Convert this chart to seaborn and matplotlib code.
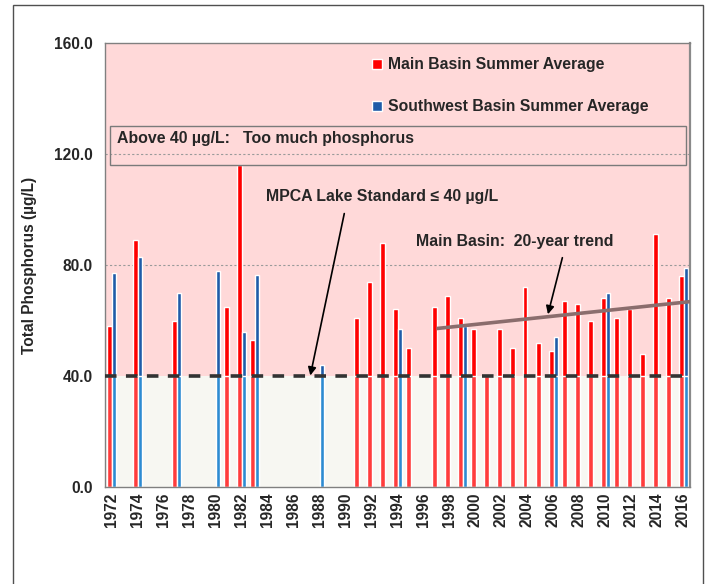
import numpy as np
import pandas as pd
import matplotlib
matplotlib.use("Agg")
import matplotlib.pyplot as plt
from matplotlib.patches import Rectangle
import seaborn as sns

# ---------------- data ----------------
years = list(range(1972, 2017))
main_years = [1972, 1974, 1977, 1981, 1982, 1983, 1991, 1992, 1993, 1994, 1995,
              1997, 1998, 1999, 2000, 2001, 2002, 2003, 2004, 2005, 2006, 2007,
              2008, 2009, 2010, 2011, 2012, 2013, 2014, 2015, 2016]
main_values = [58, 89, 60, 65, 116, 53, 61, 74, 88, 64, 50,
               65, 69, 61, 57, 40, 57, 50, 72, 52, 49, 67,
               66, 60, 68, 61, 64, 48, 91, 68, 76]
sw_years = [1972, 1974, 1977, 1980, 1982, 1983, 1988, 1994, 1999, 2006, 2010, 2016]
sw_values = [77, 83, 70, 78, 56, 76.5, 44, 57, 58, 54, 70, 79]
series_names = ["Main Basin Summer Average", "Southwest Basin Summer Average"]
trend_years = [1997, 2016.5]
trend_values = [57.1, 66.8]
standard = 40
y_ticks = [0, 40, 80, 120, 160]

df = pd.concat([
    pd.DataFrame({"year": [str(y) for y in main_years], "value": main_values,
                  "basin": series_names[0]}),
    pd.DataFrame({"year": [str(y) for y in sw_years], "value": sw_values,
                  "basin": series_names[1]}),
], ignore_index=True)
df["low"] = np.minimum(df["value"], standard)

# ---------------- style ----------------
sns.set_style("white")
plt.rcParams["font.family"] = ["Liberation Sans", "DejaVu Sans"]
plt.rcParams["font.weight"] = "bold"
FS = 11.4

fig = plt.figure(figsize=(7.15, 5.84), dpi=100)
ax = fig.add_axes([105 / 715, 1 - 487 / 584, 585 / 715, 444 / 584])

order = [str(y) for y in years]
# backgrounds
ax.axhspan(standard, 160, color="#ffd9d9", zorder=0, lw=0)
ax.axhspan(0, standard, color="#f7f7f2", zorder=0, lw=0)
for gy in [80, 120]:
    ax.axhline(gy, color="#9a9a9a", lw=0.8, ls=(0, (2, 2)), zorder=0.5)

sns.barplot(data=df, x="year", y="value", hue="basin", order=order,
            hue_order=series_names, palette=["#ff0000", "#1f5ca8"],
            width=0.64, errorbar=None, ax=ax, saturation=1, zorder=2)
handles, labels = ax.get_legend_handles_labels()
sns.barplot(data=df, x="year", y="low", hue="basin", order=order,
            hue_order=series_names, palette=["#ff3c3c", "#2d8bd2"],
            width=0.64, errorbar=None, ax=ax, saturation=1, legend=False, zorder=2)
if ax.get_legend() is not None:
    ax.get_legend().remove()

# standard line
ax.axhline(standard, color="#333333", lw=2.6, dashes=(3.2, 2.6), zorder=4)

# trend line
tx = [y - years[0] for y in trend_years]
ax.plot(tx, trend_values, color="#8b6d6d", lw=2.6, zorder=5, solid_capstyle="butt")

ax.set_xlim(-0.5, len(years) - 0.5)
ax.set_ylim(0, 160)
ax.set_yticks(y_ticks)
ax.set_yticklabels([f"{v:.1f}" for v in y_ticks], fontsize=11.2, fontweight="bold")
ax.set_xticks(range(0, len(years), 2))
ax.set_xticklabels([str(y) for y in years[::2]], rotation=90, fontsize=11.2,
                   fontweight="bold")
ax.set_xticks(np.arange(-0.5, len(years), 2), minor=True)
ax.tick_params(axis="x", which="major", length=0, pad=4)
ax.tick_params(axis="x", which="minor", length=5, color="#808080", direction="out")
ax.tick_params(axis="y", length=5, color="#808080", direction="out", pad=4)
ax.set_xlabel("")
ax.set_ylabel("Total Phosphorus (µg/L)", fontsize=11.2, fontweight="bold", labelpad=12)
for s in ax.spines.values():
    s.set_visible(True)
    s.set_color("#808080")
    s.set_linewidth(1.0)
ax.spines["right"].set_linewidth(1.6)
ax.spines["right"].set_color("#8a8a8a")

# legend
leg = ax.legend(handles, labels, loc="upper left", bbox_to_anchor=(0.432, 1.0),
                frameon=False, labelspacing=1.72,
                handlelength=0.62, handleheight=0.62, handletextpad=0.4,
                prop={"weight": "bold", "size": 11.3})

# box for "too much phosphorus"
ax.add_patch(Rectangle((0.0085, 0.725), 0.985, 0.088, transform=ax.transAxes,
                       fill=False, edgecolor="#7a7a7a", lw=1.0, zorder=6))
ax.text(0.021, 0.786, "Above 40 µg/L:   Too much phosphorus", transform=ax.transAxes,
        fontsize=FS, fontweight="bold", va="center", ha="left", zorder=7)

# annotations
ax.annotate("", xy=(0.350, 0.245), xytext=(0.410, 0.622), xycoords="axes fraction",
            arrowprops=dict(arrowstyle="-|>", color="black", lw=1.2,
                            mutation_scale=12), zorder=7)
ax.text(0.275, 0.655, "MPCA Lake Standard ≤ 40 µg/L", transform=ax.transAxes,
        fontsize=FS, fontweight="bold", va="center", ha="left", zorder=7)
ax.annotate("", xy=(0.756, 0.383), xytext=(0.783, 0.5225), xycoords="axes fraction",
            arrowprops=dict(arrowstyle="-|>", color="black", lw=1.2,
                            mutation_scale=12), zorder=7)
ax.text(0.532, 0.554, "Main Basin:  20-year trend", transform=ax.transAxes,
        fontsize=FS, fontweight="bold", va="center", ha="left", zorder=7)

# outer frame
fig.patches.append(Rectangle((12.5 / 715, -0.05), (703 - 12.5) / 715, 1 - 5 / 584 + 0.05,
                             transform=fig.transFigure, fill=False,
                             edgecolor="#505050", lw=1.0))

fig.savefig("out.png", dpi=100)
